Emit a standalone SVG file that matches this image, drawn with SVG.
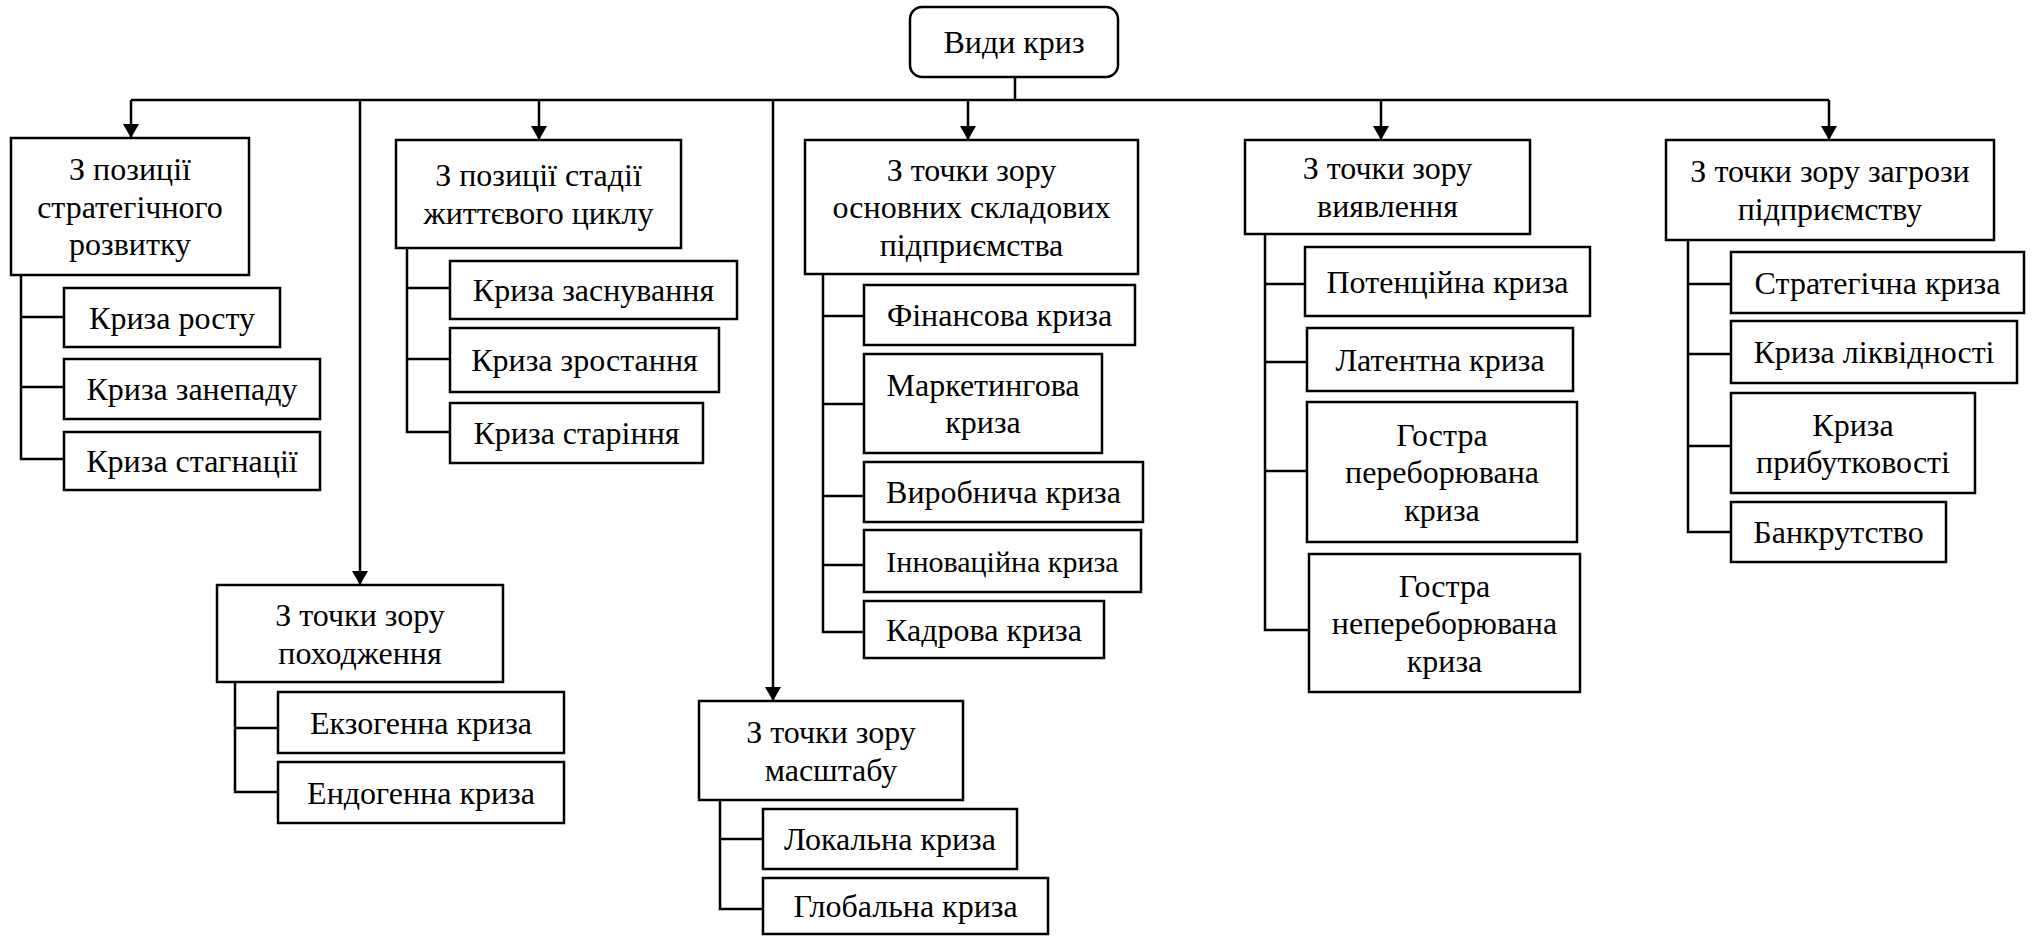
<svg xmlns="http://www.w3.org/2000/svg" width="2038" height="936" viewBox="0 0 2038 936">
<style>
.box{fill:#fff;stroke:#000;stroke-width:2.5}
.ln{fill:none;stroke:#000;stroke-width:2.5}
text{font-family:"Liberation Serif","Times New Roman",serif;font-size:32px;text-anchor:middle;fill:#000}
</style>
<defs>
<marker id="arr" viewBox="0 0 14 16" refX="14" refY="8" markerWidth="14" markerHeight="16" markerUnits="userSpaceOnUse" orient="auto">
<path d="M0,0 L14,8 L0,16 z" fill="#000"/>
</marker>
</defs>
<rect width="2038" height="936" fill="#fff"/>
<g id="connectors">
<path class="ln" d="M1015,77 V100 M131,100 H1829"/>
<path class="ln" d="M131,100 V138" marker-end="url(#arr)"/>
<path class="ln" d="M360,100 V585" marker-end="url(#arr)"/>
<path class="ln" d="M539,100 V140" marker-end="url(#arr)"/>
<path class="ln" d="M773,100 V701" marker-end="url(#arr)"/>
<path class="ln" d="M968,100 V140" marker-end="url(#arr)"/>
<path class="ln" d="M1381,100 V140" marker-end="url(#arr)"/>
<path class="ln" d="M1829,100 V140" marker-end="url(#arr)"/>
<path class="ln" d="M21,275 V459 H64 M21,317 H64 M21,387 H64"/>
<path class="ln" d="M407,248 V432 H450 M407,288 H450 M407,359 H450"/>
<path class="ln" d="M235,682 V792 H278 M235,728 H278"/>
<path class="ln" d="M720,800 V909 H763 M720,839 H763"/>
<path class="ln" d="M823,274 V632 H864 M823,316 H864 M823,404 H864 M823,496 H864 M823,565 H864"/>
<path class="ln" d="M1265,234 V630 H1309 M1265,284 H1305 M1265,362 H1307 M1265,471 H1307"/>
<path class="ln" d="M1688,240 V532 H1731 M1688,284 H1731 M1688,354 H1731 M1688,446 H1731"/>
</g>
<g id="root"><rect class="box" x="910" y="7" width="208" height="70" rx="12"/><text x="1014" y="53">Види криз</text></g>
<g id="b1"><rect class="box" x="11" y="138" width="238" height="137"/><text x="130" y="180">З позиції</text><text x="130" y="217.5">стратегічного</text><text x="130" y="255">розвитку</text></g>
<g id="b1c1"><rect class="box" x="64" y="288" width="216" height="59"/><text x="172" y="328.5">Криза росту</text></g>
<g id="b1c2"><rect class="box" x="64" y="359" width="256" height="60"/><text x="192" y="400">Криза занепаду</text></g>
<g id="b1c3"><rect class="box" x="64" y="432" width="256" height="58"/><text x="192" y="472">Криза стагнації</text></g>
<g id="b2"><rect class="box" x="396" y="140" width="285" height="108"/><text x="538.5" y="186.25">З позиції стадії</text><text x="538.5" y="223.75">життєвого циклу</text></g>
<g id="b2c1"><rect class="box" x="450" y="261" width="287" height="58"/><text x="593.5" y="301">Криза заснування</text></g>
<g id="b2c2"><rect class="box" x="450" y="328" width="269" height="64"/><text x="584.5" y="371">Криза зростання</text></g>
<g id="b2c3"><rect class="box" x="450" y="403" width="253" height="60"/><text x="576.5" y="444">Криза старіння</text></g>
<g id="b3"><rect class="box" x="217" y="585" width="286" height="97"/><text x="360" y="626">З точки зору</text><text x="360" y="663.5">походження</text></g>
<g id="b3c1"><rect class="box" x="278" y="692" width="286" height="61"/><text x="421" y="733.5">Екзогенна криза</text></g>
<g id="b3c2"><rect class="box" x="278" y="762" width="286" height="61"/><text x="421" y="803.5">Ендогенна криза</text></g>
<g id="b4"><rect class="box" x="699" y="701" width="264" height="99"/><text x="831" y="743">З точки зору</text><text x="831" y="780.5">масштабу</text></g>
<g id="b4c1"><rect class="box" x="763" y="809" width="254" height="60"/><text x="890" y="850">Локальна криза</text></g>
<g id="b4c2"><rect class="box" x="763" y="878" width="285" height="56"/><text x="905.5" y="917">Глобальна криза</text></g>
<g id="b5"><rect class="box" x="805" y="140" width="333" height="134"/><text x="971.5" y="180.5">З точки зору</text><text x="971.5" y="218">основних складових</text><text x="971.5" y="255.5">підприємства</text></g>
<g id="b5c1"><rect class="box" x="864" y="285" width="271" height="60"/><text x="999.5" y="326">Фінансова криза</text></g>
<g id="b5c2"><rect class="box" x="864" y="354" width="238" height="99"/><text x="983" y="395.75">Маркетингова</text><text x="983" y="433.25">криза</text></g>
<g id="b5c3"><rect class="box" x="864" y="462" width="279" height="60"/><text x="1003.5" y="503">Виробнича криза</text></g>
<g id="b5c4"><rect class="box" x="864" y="530" width="277" height="62"/><text x="1002.5" y="572" style="font-size:30px">Інноваційна криза</text></g>
<g id="b5c5"><rect class="box" x="864" y="601" width="240" height="57"/><text x="984" y="640.5">Кадрова криза</text></g>
<g id="b6"><rect class="box" x="1245" y="140" width="285" height="94"/><text x="1387.5" y="179.25">З точки зору</text><text x="1387.5" y="216.75">виявлення</text></g>
<g id="b6c1"><rect class="box" x="1305" y="247" width="285" height="69"/><text x="1447.5" y="292.5">Потенційна криза</text></g>
<g id="b6c2"><rect class="box" x="1307" y="328" width="266" height="63"/><text x="1440" y="370.5">Латентна криза</text></g>
<g id="b6c3"><rect class="box" x="1307" y="402" width="270" height="140"/><text x="1442" y="445.5">Гостра</text><text x="1442" y="483">переборювана</text><text x="1442" y="520.5">криза</text></g>
<g id="b6c4"><rect class="box" x="1309" y="554" width="271" height="138"/><text x="1444.5" y="596.5">Гостра</text><text x="1444.5" y="634">непереборювана</text><text x="1444.5" y="671.5">криза</text></g>
<g id="b7"><rect class="box" x="1666" y="140" width="328" height="100"/><text x="1830" y="182">З точки зору загрози</text><text x="1830" y="220">підприємству</text></g>
<g id="b7c1"><rect class="box" x="1731" y="252" width="293" height="61"/><text x="1877.5" y="293.5">Стратегічна криза</text></g>
<g id="b7c2"><rect class="box" x="1731" y="321" width="286" height="62"/><text x="1874" y="363">Криза ліквідності</text></g>
<g id="b7c3"><rect class="box" x="1731" y="393" width="244" height="100"/><text x="1853" y="435.5">Криза</text><text x="1853" y="473">прибутковості</text></g>
<g id="b7c4"><rect class="box" x="1731" y="502" width="215" height="60"/><text x="1838.5" y="543">Банкрутство</text></g>
</svg>
